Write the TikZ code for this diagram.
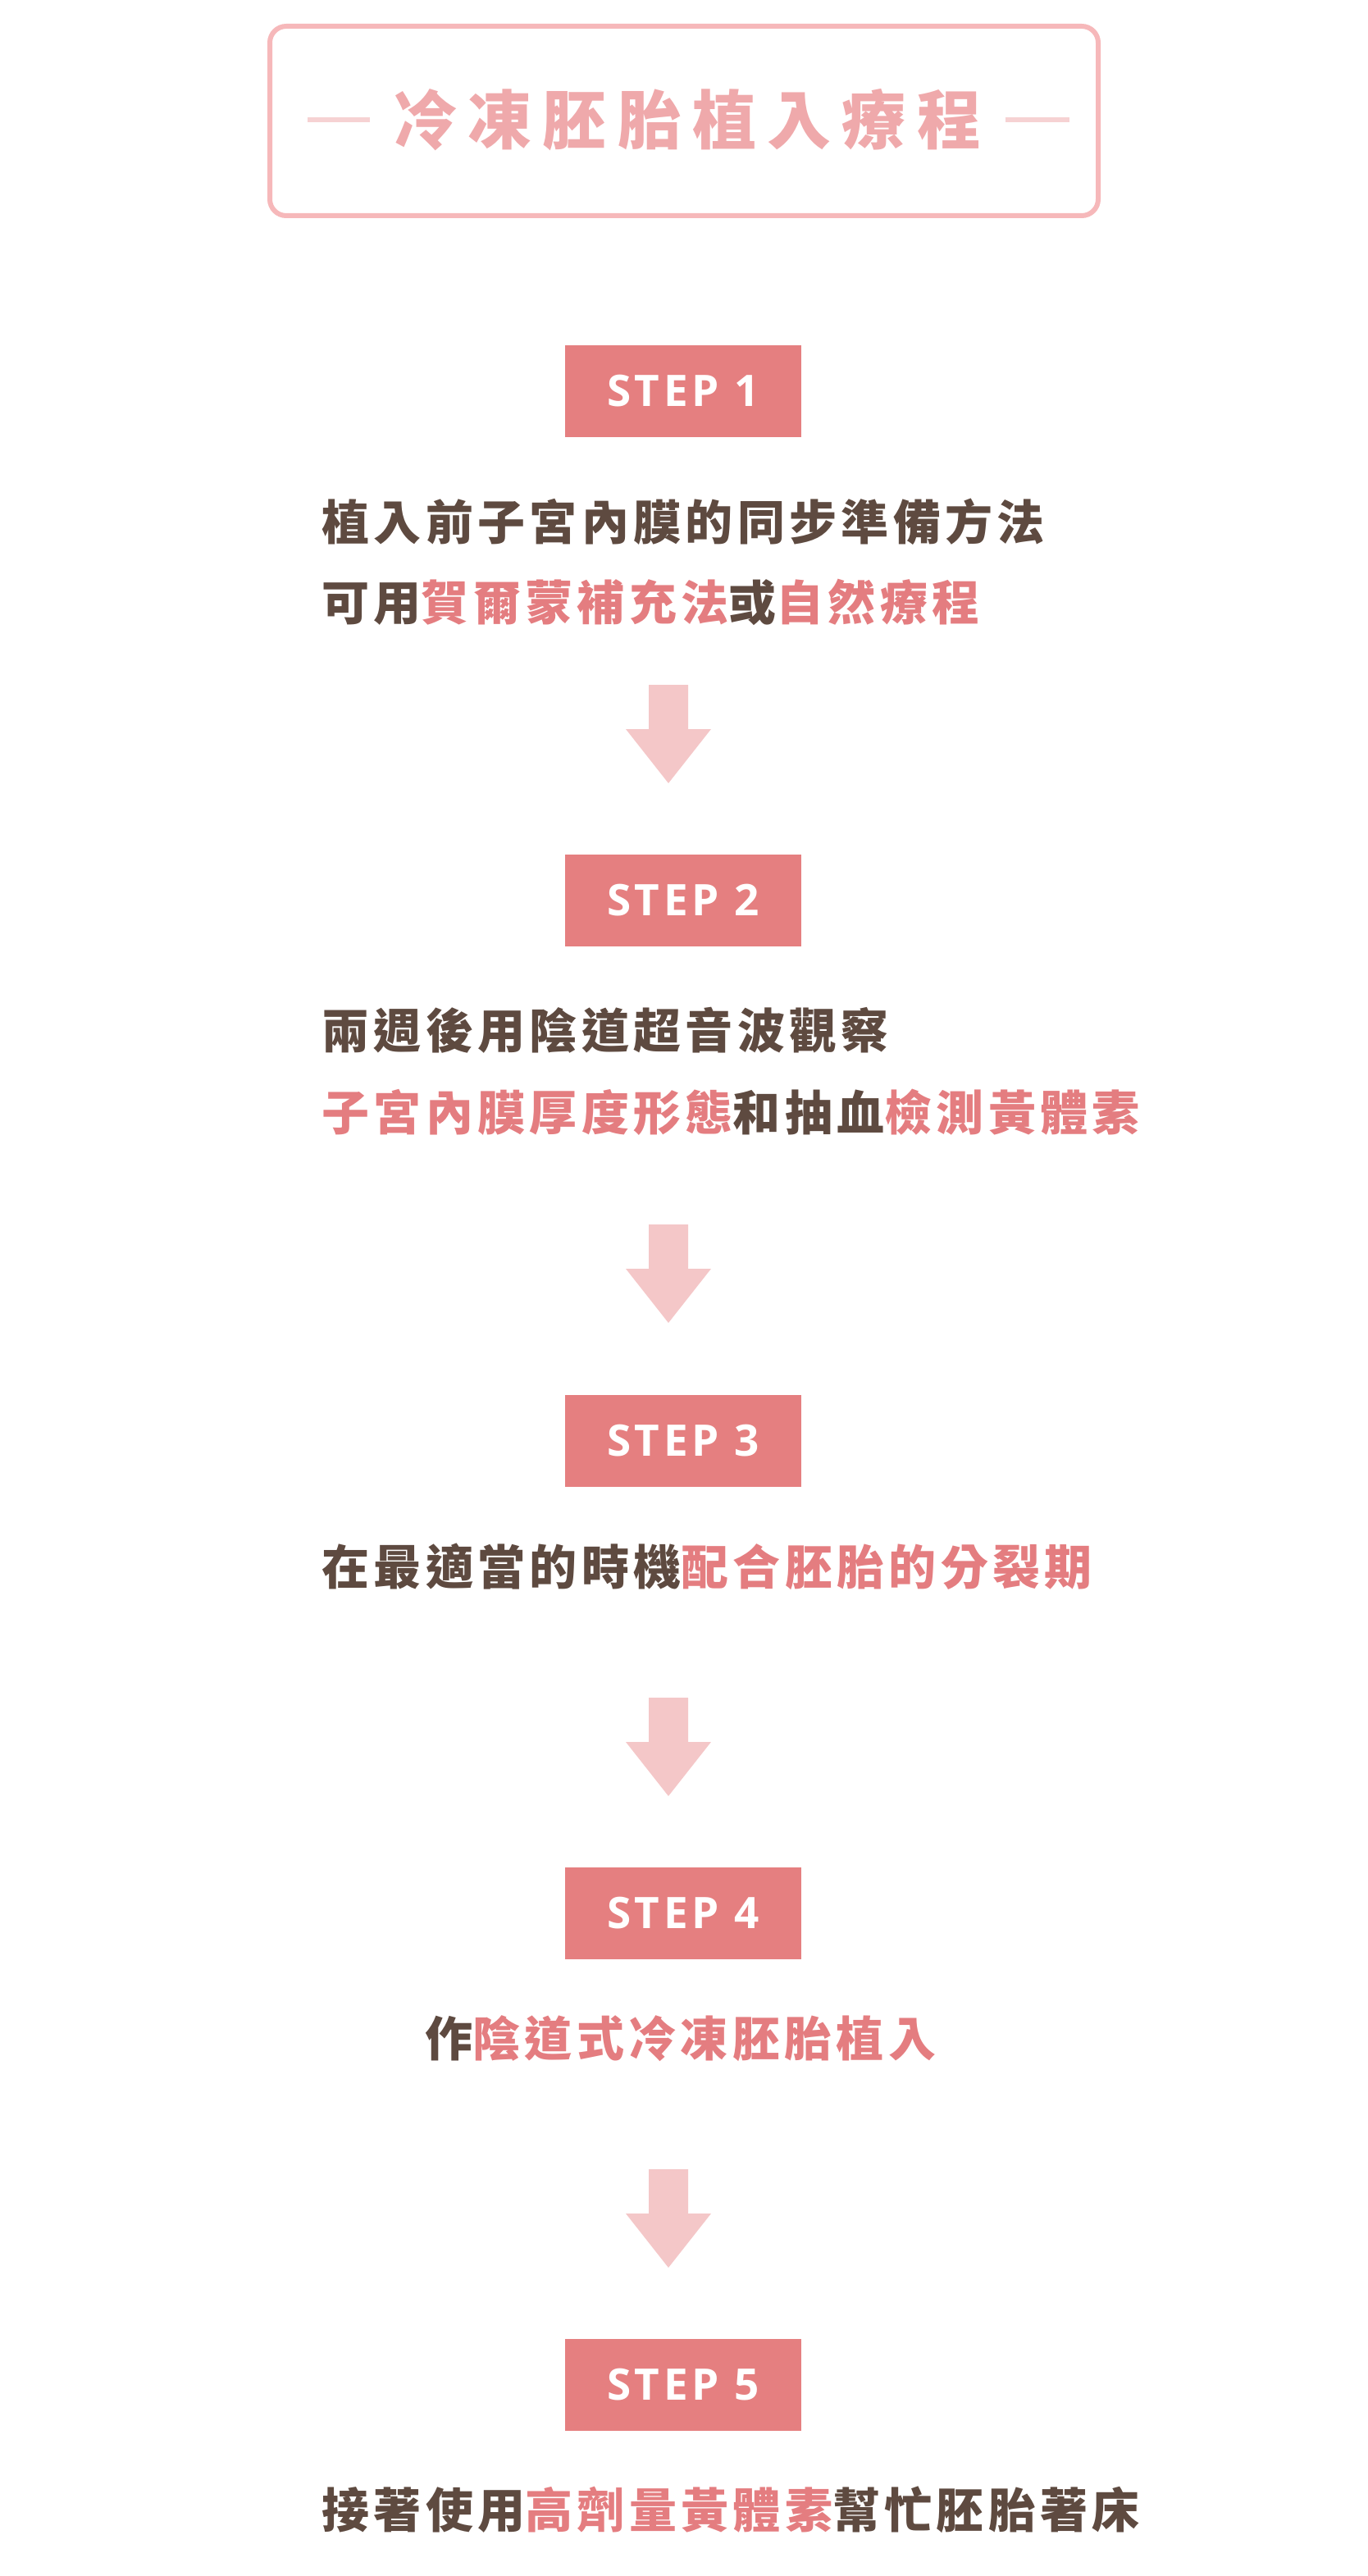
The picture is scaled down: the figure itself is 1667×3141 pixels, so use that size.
\documentclass[tikz,border=0pt]{standalone}
\usepackage{fontspec}
\newfontfamily\cjk[LetterSpace=9.2]{Noto Sans CJK TC}
\newfontfamily\titlefont[LetterSpace=17]{Noto Sans CJK TC}
\newfontfamily\stepfont[LetterSpace=9]{Open Sans}
\definecolor{brownT}{HTML}{5E4A40}
\definecolor{pinkT}{HTML}{E47D80}
\definecolor{stepfill}{HTML}{E57F80}
\definecolor{arrowfill}{HTML}{F4C7C8}
\definecolor{titlepink}{HTML}{EFA9AB}
\definecolor{framepink}{HTML}{F6B8BA}
\definecolor{dashpink}{HTML}{F6D2D3}
\newcommand\pk[1]{\textcolor{pinkT}{#1}}
\begin{document}
\begin{tikzpicture}[x=0.5pt,y=-0.5pt,
  stepbox/.style={fill=stepfill, minimum width=144pt, minimum height=56pt, inner sep=0pt, text=white, font=\stepfont\bfseries\fontsize{26.5}{26.5}\selectfont},
  body/.style={anchor=west, inner sep=0pt, text=brownT, font=\cjk\bfseries\fontsize{29}{29}\selectfont},
  blockarrow/.style={fill=arrowfill},
  dashline/.style={draw=dashpink, line width=3pt}]
\useasboundingbox (0,0) rectangle (1667,3141);
% title
\draw[framepink, line width=3pt, rounded corners=10pt] (329,32) rectangle (1339,263);
\node[anchor=west, inner sep=0pt, text=titlepink, font=\titlefont\bfseries\fontsize{39}{39}\selectfont] (title) at (479,146) {冷凍胚胎植入療程};
\coordinate (d1a) at (375,146); \coordinate (d1b) at (451,146);
\coordinate (d2a) at (1226,146); \coordinate (d2b) at (1304,146);
\draw[dashline] (d1a) -- (d1b);
\draw[dashline] (d2a) -- (d2b);
% steps
\node[stepbox] (s1) at (833,477) {STEP 1};
\node[stepbox] (s2) at (833,1098) {STEP 2};
\node[stepbox] (s3) at (833,1757) {STEP 3};
\node[stepbox] (s4) at (833,2333) {STEP 4};
\node[stepbox] (s5) at (833,2908) {STEP 5};
% texts
\node[body] (t1a) at (392,636) {植入前子宮內膜的同步準備方法};
\node[body] (t1b) at (392,734) {可用\pk{賀爾蒙補充法}或\pk{自然療程}};
\node[body] (t2a) at (392,1256) {兩週後用陰道超音波觀察};
\node[body] (t2b) at (392,1356) {\pk{子宮內膜厚度形態}和抽血\pk{檢測黃體素}};
\node[body] (t3) at (392,1910) {在最適當的時機\pk{配合胚胎的分裂期}};
\node[body] (t4) at (518,2486) {作\pk{陰道式冷凍胚胎植入}};
\node[body] (t5) at (392,3060) {接著使用\pk{高劑量黃體素}幫忙胚胎著床};
% arrows
\foreach \n/\yy in {a1/835, a2/1493, a3/2070, a4/2645}{
  \coordinate (\n) at (815,\yy);
  \fill[blockarrow, shift={(\n)}] (-24,0) -- (24,0) -- (24,54) -- (52,54) -- (0,120) -- (-52,54) -- (-24,54) -- cycle;
}
\end{tikzpicture}
\end{document}
